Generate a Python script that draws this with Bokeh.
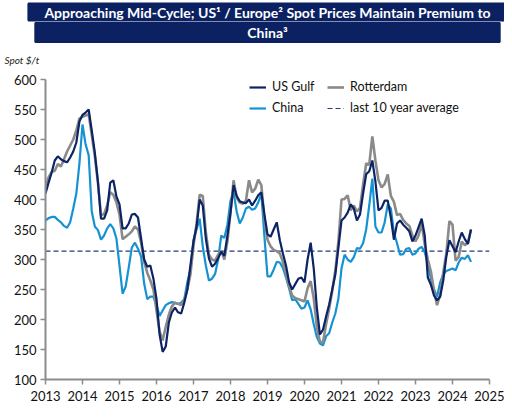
import numpy as np

from bokeh.embed import file_html
from bokeh.models import FixedTicker, Legend, LegendItem, Range1d, Title
from bokeh.plotting import figure
from bokeh.resources import INLINE

# monthly spot prices, $/t, Jan 2013 .. Jul 2024
us_gulf = [
    410, 428, 445, 465, 472, 467, 464, 462, 470, 480, 495, 530,
    541, 545, 550, 515, 478, 430, 368, 368, 382, 428, 432, 405,
    392, 352, 352, 360, 375, 376, 370, 335, 300, 288, 290, 268,
    234, 175, 146, 155, 195, 212, 220, 212, 210, 228, 250, 290,
    330, 355, 400, 390, 335, 302, 288, 293, 302, 313, 306, 340,
    378, 424, 406, 397, 395, 394, 400, 390, 398, 407, 412, 375,
    342, 338, 350, 362, 332, 310, 290, 262, 250, 259, 268, 270,
    262, 300, 328, 285, 220, 175, 183, 205, 225, 250, 275, 320,
    365, 370, 378, 392, 385, 365, 375, 410, 442, 447, 465, 430,
    382, 386, 398, 398, 370, 333, 360, 365, 358, 353, 347, 330,
    340, 354, 368, 340, 270, 258, 240, 232, 238, 265, 305, 332,
    322, 312, 330, 345, 334, 326, 350,
]
rotterdam = [
    423, 437, 446, 448, 459, 455, 467, 480, 490, 500, 515, 535,
    538, 540, 542, 508, 472, 428, 373, 376, 390, 412, 408, 395,
    375, 334, 338, 342, 347, 355, 350, 328, 296, 278, 265, 250,
    215, 180, 165, 188, 208, 222, 228, 226, 224, 232, 250, 275,
    323, 360, 408, 406, 345, 308, 300, 298, 308, 315, 300, 330,
    378, 432, 403, 395, 393, 398, 432, 412, 418, 433, 424, 368,
    333, 322, 316, 314, 310, 296, 276, 256, 240, 236, 234, 232,
    230, 252, 264, 235, 188, 163, 162, 192, 218, 248, 282, 330,
    400, 401, 407, 382, 390, 380, 386, 425, 460, 458, 505, 465,
    432, 420, 426, 442, 406, 396, 374, 376, 366, 360, 356, 340,
    330, 340, 360, 325, 300, 280, 248, 224, 242, 278, 310, 364,
    358, 298, 304, 330, 324, 328, 350,
]
china = [
    365, 369, 371, 371, 366, 362, 356, 353, 362, 385, 410, 460,
    525, 492, 474, 380, 355, 349, 333, 340, 352, 359, 352, 335,
    290, 243, 255, 287, 320, 328, 318, 305, 260, 234, 238, 238,
    224, 206, 215, 224, 227, 229, 228, 226, 228, 234, 262, 282,
    333, 350, 368, 322, 290, 265, 268, 276, 300, 340, 336, 358,
    398, 412, 380, 360, 370, 385, 388, 383, 385, 395, 410, 338,
    272, 272, 283, 296, 295, 286, 270, 252, 232, 234, 226, 218,
    220, 232, 217, 192, 171, 160, 157, 172, 177, 195, 210, 235,
    285, 308, 300, 296, 304, 319, 318, 327, 350, 390, 435, 355,
    345, 345, 362, 392, 385, 345, 327, 308, 309, 318, 319, 308,
    310, 318, 321, 312, 293, 268, 250, 238, 262, 275, 281, 283,
    285, 282, 295, 303, 301, 307, 296,
]
avg_10y = 314
first_year, last_year = 2013, 2025
y_min, y_max = 100, 600
year_ticks = list(range(2013, 2026))
price_ticks = list(range(100, 601, 50))

title_lines = ["Approaching Mid-Cycle; US\u00b9 / Europe\u00b2 Spot Prices Maintain Premium to",
               "China\u00b3"]
unit_label = "Spot $/t"

t = first_year + np.arange(len(us_gulf)) / 12

# a few px of headroom above 600 so the legend is not clipped; axis stops at 600
p = figure(width=504, height=419, output_backend="svg", toolbar_location=None,
           x_range=Range1d(first_year, last_year), y_range=Range1d(y_min, y_max + 6.7),
           min_border_left=45, min_border_right=15, min_border_top=75,
           min_border_bottom=40)

p.outline_line_color = None
p.grid.grid_line_color = None
p.yaxis.bounds = (y_min, y_max)

for ax, ticks in ((p.xaxis, year_ticks), (p.yaxis, price_ticks)):
    ax.ticker = FixedTicker(ticks=ticks)
    ax.axis_line_color = "#8c8c8c"
    ax.axis_line_width = 2
    ax.major_tick_line_color = "#8c8c8c"
    ax.major_tick_line_width = 1.5
    ax.major_tick_in = 0
    ax.major_tick_out = 5
    ax.minor_tick_line_color = None
    ax.major_label_text_font = "Lato"
    ax.major_label_text_font_size = "13px"
    ax.major_label_text_color = "#111111"
p.xaxis.major_label_standoff = 6
p.yaxis.major_label_standoff = 4

r_avg = p.line([first_year, last_year], [avg_10y, avg_10y], line_color="#1f3c78",
               line_width=1.2, line_dash="5 3")
r_china = p.line(t, china, line_color="#1592d2", line_width=2.2)
r_rdam = p.line(t, rotterdam, line_color="#8a8a8a", line_width=2.6)
r_us = p.line(t, us_gulf, line_color="#0c2466", line_width=2.2)

legend = Legend(items=[
    LegendItem(label="US Gulf", renderers=[r_us]),
    LegendItem(label="China", renderers=[r_china]),
    LegendItem(label="Rotterdam", renderers=[r_rdam]),
    LegendItem(label="last 10 year average", renderers=[r_avg]),
], ncols=2, location=(204, 264))
legend.background_fill_alpha = 0
legend.border_line_color = None
legend.padding = 0
legend.margin = 0
legend.spacing = 6
legend.glyph_width = 17
legend.glyph_height = 14
legend.label_height = 14
legend.label_width = 49
legend.label_standoff = 6
legend.label_text_font = "Lato"
legend.label_text_font_size = "12.5px"
legend.label_text_color = "#111111"
p.add_layout(legend, "center")

# titles stack outward from the frame: unit label, then banner line 2, then line 1
navy = "#0b2161"
banner = dict(text_font="Lato", text_font_style="bold", text_font_size="14px",
              text_color="white", background_fill_color=navy,
              border_line_color=navy, border_line_width=2,
              text_line_height=0.9, align="center", offset=-17)
p.add_layout(Title(text=unit_label, text_font="Lato", text_font_style="italic",
                   text_font_size="10px", text_color="#222222", align="left",
                   offset=-41, standoff=19), "above")
p.add_layout(Title(text=title_lines[1], standoff=1, padding=(212, 1), **banner), "above")
p.add_layout(Title(text=title_lines[0], standoff=0, padding=(16, 0), **banner), "above")

open("out.html", "w").write(file_html(p, INLINE))
